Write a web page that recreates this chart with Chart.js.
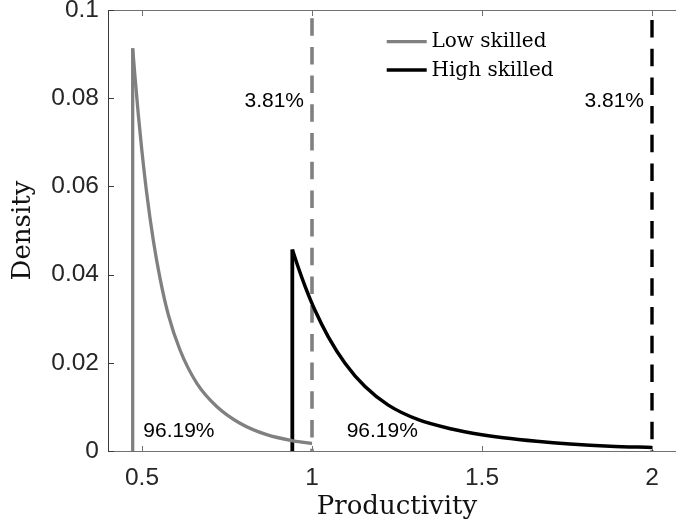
<!DOCTYPE html>
<html><head><meta charset="utf-8">
<script src="https://cdn.jsdelivr.net/npm/chart.js@4/dist/chart.umd.min.js"></script>
<style>html,body{margin:0;padding:0;background:#fff;overflow:hidden}#wrap{width:700px;height:529px;position:relative}</style>
</head><body><div id="wrap"><canvas id="c"></canvas></div>
<script>
// ---- data ----
const seriesNames = ['Low skilled', 'High skilled'];
const lowX  = [0.4726, 0.4794, 0.4891, 0.4991, 0.5138, 0.5332, 0.5529, 0.5774, 0.6118, 0.6609, 0.7197, 0.7882, 0.8668, 0.9450, 1.0];
const lowY  = [0.0913, 0.0849, 0.0763, 0.0685, 0.0585, 0.0478, 0.0392, 0.0309, 0.0229, 0.0154, 0.0101, 0.0063, 0.0037, 0.0023, 0.0017];
const highX = [0.9421, 0.9597, 0.9794, 1.0088, 1.0479, 1.0971, 1.1559, 1.2244, 1.3126, 1.4109, 1.4991, 1.5626, 1.6609, 1.7588, 1.8765, 2.0];
const highY = [0.0457, 0.0416, 0.0374, 0.0319, 0.0259, 0.0199, 0.0146, 0.0104, 0.0071, 0.0050, 0.0037, 0.0030, 0.0022, 0.0016, 0.0011, 0.0008];
const cutoffX = [1, 2];
const xTicks = [0.5, 1, 1.5, 2];
const yTicks = [0, 0.02, 0.04, 0.06, 0.08, 0.1];
const xRange = [0.4, 2.1];
const yRange = [0, 0.1];
const aboveText = ['3.81%', '3.81%'];
const aboveX = [0.9765, 1.9765];
const aboveY = [0.0781, 0.0781];
const belowText = ['96.19%', '96.19%'];
const belowX = [0.5038, 1.102];
const belowY = [0.0032, 0.0032];

// ---- styles ----
const colors = ['#808080', '#000000'];
const pts = (xs, ys) => xs.map((x, i) => ({x: x, y: ys[i]}));

const datasets = [
  {label: seriesNames[0], data: pts(lowX, lowY), borderColor: colors[0], borderWidth: 3.3, cubicInterpolationMode: 'monotone'},
  {label: seriesNames[1], data: pts(highX, highY), borderColor: colors[1], borderWidth: 3.5, cubicInterpolationMode: 'monotone'},
  {label: 'v0', data: [{x: lowX[0], y: 0}, {x: lowX[0], y: lowY[0]}], borderColor: colors[0], borderWidth: 3.3},
  {label: 'v1', data: [{x: highX[0], y: 0}, {x: highX[0], y: highY[0]}], borderColor: colors[1], borderWidth: 3.8},
  {label: 'c0', data: [{x: cutoffX[0], y: yRange[1]}, {x: cutoffX[0], y: yRange[0]}], borderColor: colors[0], borderWidth: 3.6, borderDash: [17.5, 11.2], borderDashOffset: 20.5},
  {label: 'c1', data: [{x: cutoffX[1], y: yRange[1]}, {x: cutoffX[1], y: yRange[0]}], borderColor: colors[1], borderWidth: 3.4, borderDash: [17.5, 11.2], borderDashOffset: 18.7}
];
datasets.forEach(d => { d.pointRadius = 0; d.fill = false; d.tension = 0; });
datasets[0].tension = 0.4; datasets[1].tension = 0.4;

const deco = {
  id: 'deco',
  beforeDatasetsDraw(chart) {
    const {ctx, chartArea: a, scales: {x, y}} = chart;
    ctx.save();
    ctx.lineWidth = 1;
    ctx.strokeStyle = '#707070';
    ctx.beginPath();
    ctx.moveTo(a.left, a.top + 0.5); ctx.lineTo(a.right, a.top + 0.5);
    ctx.moveTo(a.left, a.bottom + 0.5); ctx.lineTo(a.right, a.bottom + 0.5);
    xTicks.forEach(v => {
      const px = Math.round(x.getPixelForValue(v)) + 0.5;
      ctx.moveTo(px, a.bottom); ctx.lineTo(px, a.bottom - 5);
      ctx.moveTo(px, a.top); ctx.lineTo(px, a.top + 6);
    });
    ctx.stroke();
    ctx.strokeStyle = '#3a3a3a';
    ctx.beginPath();
    ctx.moveTo(a.left + 0.5, a.top); ctx.lineTo(a.left + 0.5, a.bottom + 1);
    yTicks.forEach(v => {
      const py = Math.round(y.getPixelForValue(v)) + 0.5;
      ctx.moveTo(a.left, py); ctx.lineTo(a.left + 6, py);
    });
    ctx.stroke();
    ctx.restore();
  },
  afterDatasetsDraw(chart) {
    const {ctx, scales: {x, y}} = chart;
    ctx.save();
    // legend
    const lx0 = 386.7, lx1 = 426.7, ly = [41.7, 70];
    ctx.font = '20px "DejaVu Serif"';
    ctx.fillStyle = '#000';
    seriesNames.forEach((n, i) => {
      ctx.strokeStyle = colors[i];
      ctx.lineWidth = 3.3;
      ctx.beginPath(); ctx.moveTo(lx0, ly[i]); ctx.lineTo(lx1, ly[i]); ctx.stroke();
      ctx.textBaseline = 'alphabetic';
      ctx.fillText(n, 431.5, ly[i] + 5.5);
    });
    // annotations
    ctx.font = '21px "Liberation Sans"';
    ctx.textBaseline = 'alphabetic';
    ctx.textAlign = 'right';
    aboveText.forEach((t, i) => ctx.fillText(t, x.getPixelForValue(aboveX[i]), y.getPixelForValue(aboveY[i])));
    ctx.textAlign = 'left';
    belowText.forEach((t, i) => ctx.fillText(t, x.getPixelForValue(belowX[i]), y.getPixelForValue(belowY[i])));
    ctx.restore();
  }
};

new Chart(document.getElementById('c'), {
  type: 'line',
  data: {datasets: datasets},
  plugins: [deco],
  options: {
    responsive: true, maintainAspectRatio: false, animation: false, devicePixelRatio: 1,
    layout: {padding: {top: 10, right: 14, left: 0, bottom: 0}},
    plugins: {legend: {display: false}, tooltip: {enabled: false}},
    scales: {
      x: {
        type: 'linear', min: xRange[0], max: xRange[1],
        afterBuildTicks: s => { s.ticks = xTicks.map(v => ({value: v})); },
        afterFit: s => { s.height = 78; s.paddingLeft = 0; s.paddingRight = 0; },
        grid: {display: false, drawTicks: false},
        border: {display: false},
        ticks: {padding: 13, color: '#262626', font: {family: 'Liberation Sans', size: 24.5}, maxRotation: 0, callback: v => String(v)},
        title: {display: true, text: 'Productivity', color: '#111', font: {family: 'DejaVu Serif', size: 26}, padding: {top: 0, bottom: 6}}
      },
      y: {
        type: 'linear', min: yRange[0], max: yRange[1],
        afterBuildTicks: s => { s.ticks = yTicks.map(v => ({value: v})); },
        afterFit: s => { s.width = 108; s.paddingTop = 0; s.paddingBottom = 0; },
        grid: {display: false, drawTicks: false},
        border: {display: false},
        ticks: {padding: 9, color: '#262626', font: {family: 'Liberation Sans', size: 24.5}, callback: v => String(v)},
        title: {display: true, text: 'Density', color: '#111', font: {family: 'DejaVu Serif', size: 26}, padding: {top: 8, bottom: 0}}
      }
    }
  }
});
</script>
</body></html>
